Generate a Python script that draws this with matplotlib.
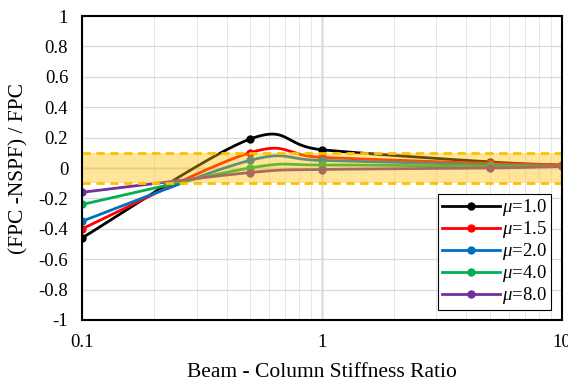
import numpy as np
import matplotlib
matplotlib.use('Agg')
import matplotlib.pyplot as plt
from matplotlib.ticker import LogLocator, NullFormatter

plt.rcParams['font.family'] = ['Liberation Serif', 'DejaVu Serif']
plt.rcParams['mathtext.fontset'] = 'custom'
plt.rcParams['mathtext.it'] = 'Liberation Serif:italic'
plt.rcParams['mathtext.rm'] = 'Liberation Serif'

# data
ratio = [0.1, 0.5, 1, 5, 10]
mu_labels = ['1.0', '1.5', '2.0', '4.0', '8.0']
mu10 = [-0.46, 0.19, 0.12, 0.04, 0.02]
mu15 = [-0.40, 0.10, 0.07, 0.03, 0.02]
mu20 = [-0.35, 0.05, 0.05, 0.02, 0.01]
mu40 = [-0.24, 0.00, 0.02, 0.01, 0.01]
mu80 = [-0.16, -0.03, -0.01, 0.00, 0.01]
series = [mu10, mu15, mu20, mu40, mu80]
colores = ['#000000', '#FF0000', '#0070C0', '#00B050', '#7030A0']
band_lo, band_hi = -0.1, 0.1


def suavizar(xs, ys, n=40):
    # smooth line like a spreadsheet chart, done in log-x space
    px = np.log10(xs)
    py = np.array(ys, dtype=float)
    outx, outy = [], []
    t = np.linspace(0, 1, n)
    for i in range(len(px) - 1):
        p0 = (px[max(i - 1, 0)], py[max(i - 1, 0)])
        p1 = (px[i], py[i])
        p2 = (px[i + 1], py[i + 1])
        p3 = (px[min(i + 2, len(px) - 1)], py[min(i + 2, len(px) - 1)])
        c1 = (p1[0] + (p2[0] - p0[0]) / 6, p1[1] + (p2[1] - p0[1]) / 6)
        c2 = (p2[0] - (p3[0] - p1[0]) / 6, p2[1] - (p3[1] - p1[1]) / 6)
        bx = (1-t)**3*p1[0] + 3*(1-t)**2*t*c1[0] + 3*(1-t)*t**2*c2[0] + t**3*p2[0]
        by = (1-t)**3*p1[1] + 3*(1-t)**2*t*c1[1] + 3*(1-t)*t**2*c2[1] + t**3*p2[1]
        outx.extend(bx)
        outy.extend(by)
    return 10 ** np.array(outx), np.array(outy)


fig = plt.figure(figsize=(5.68, 3.83), dpi=100)
ax = fig.add_axes([0.1444, 0.1645, 0.845, 0.7937])

ax.set_xscale('log')
ax.set_xlim(0.1, 10)
ax.set_ylim(-1, 1)

ax.xaxis.set_minor_locator(LogLocator(base=10, subs=np.arange(2, 10)))
ax.xaxis.set_minor_formatter(NullFormatter())
ax.set_xticks([0.1, 1, 10])
ax.set_xticklabels(['0.1', '1', '10'])
ax.set_yticks(np.arange(-1, 1.01, 0.2))
ax.set_yticklabels(['-1', '-0.8', '-0.6', '-0.4', '-0.2', '0', '0.2', '0.4', '0.6', '0.8', '1'])

ax.grid(which='major', color='#D9D9D9', lw=0.9)
ax.grid(which='minor', axis='x', color='#E6E6E6', lw=0.7)
ax.axvline(1, color='#A6A6A6', lw=1.0, zorder=1)
ax.axhline(0, color='#A6A6A6', lw=1.0, zorder=1)

for ys, c, lab in zip(series, colores, mu_labels):
    sx, sy = suavizar(ratio, ys)
    ax.plot(sx, sy, color=c, lw=2.0, zorder=2)
    ax.plot(ratio, ys, 'o', color=c, ms=5, zorder=2)
    ax.plot([], [], '-o', color=c, lw=2.0, ms=5, label=r'$\mu$=' + lab)

ax.axhspan(band_lo, band_hi, color='#FFC000', alpha=0.4, lw=0, zorder=3)
ax.axhline(band_hi, color='#FFC000', lw=2, ls=(0, (3, 2)), zorder=3)
ax.axhline(band_lo, color='#FFC000', lw=2, ls=(0, (3, 2)), zorder=3)

for s in ax.spines.values():
    s.set_color('black')
    s.set_linewidth(1.5)
    s.set_zorder(5)

ax.tick_params(which='both', length=0, labelsize=13.5)
ax.tick_params(axis='y', pad=10)
ax.tick_params(axis='x', pad=10)
ax.set_xlabel('Beam - Column Stiffness Ratio', fontsize=15.5, labelpad=9)
ax.set_ylabel('(FPC -NSPF) / FPC', fontsize=15.5, labelpad=7)

leg = ax.legend(loc='lower right', bbox_to_anchor=(0.977, 0.033), fontsize=13.5,
                frameon=True, fancybox=False, edgecolor='black', framealpha=1,
                handlelength=3.1, borderpad=0.2, labelspacing=0.05, handletextpad=0.15,
                borderaxespad=0)
leg.get_frame().set_linewidth(0.8)
leg.set_zorder(6)

fig.savefig('out.png', dpi=100)
